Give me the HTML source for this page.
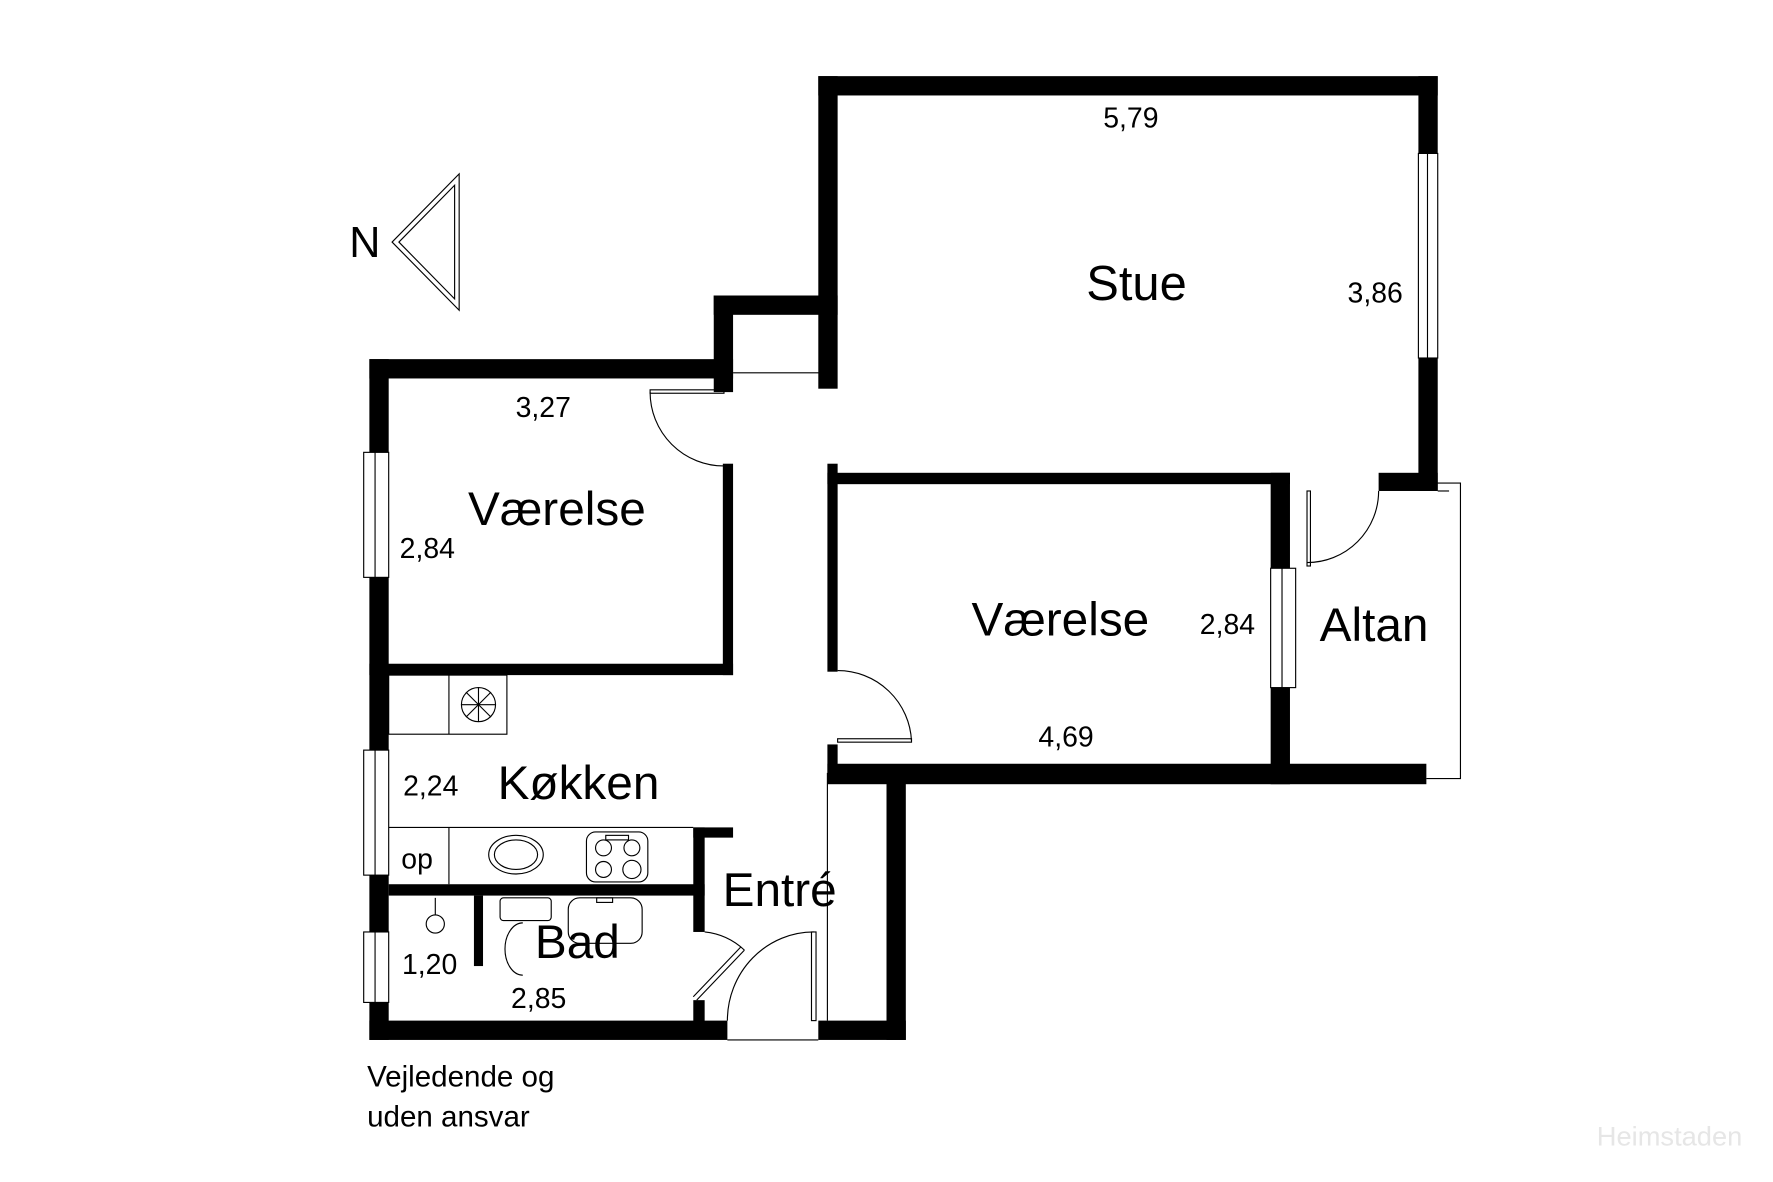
<!DOCTYPE html>
<html><head><style>html,body{margin:0;padding:0;background:#fff}svg{display:block}text{font-family:"Liberation Sans",Arial,sans-serif;fill:#000}</style></head><body>
<svg width="1773" height="1182" viewBox="0 0 1560 1040" xmlns="http://www.w3.org/2000/svg">
<rect width="1560" height="1040" fill="#fff"/>
<g fill="#000">
<rect x="720" y="67" width="545" height="17"/>
<rect x="1248" y="67" width="17" height="68"/>
<rect x="1248" y="315" width="17" height="117"/>
<rect x="720" y="67" width="17" height="275"/>
<rect x="1213" y="416" width="52" height="16"/>
<rect x="628" y="260" width="109" height="17"/>
<rect x="628" y="260" width="17" height="85"/>
<rect x="325" y="316" width="320" height="17"/>
<rect x="325" y="316" width="17" height="82"/>
<rect x="325" y="508" width="17" height="152"/>
<rect x="325" y="770" width="17" height="50"/>
<rect x="325" y="882" width="17" height="33"/>
<rect x="636" y="408" width="9" height="186"/>
<rect x="325" y="584" width="320" height="10"/>
<rect x="728" y="408" width="9" height="183"/>
<rect x="728" y="655" width="9" height="25"/>
<rect x="728" y="416" width="407" height="10"/>
<rect x="1118" y="416" width="17" height="84"/>
<rect x="1118" y="605" width="17" height="85"/>
<rect x="728" y="672" width="527" height="18"/>
<rect x="780" y="680" width="17" height="235"/>
<rect x="325" y="898" width="315" height="17"/>
<rect x="720" y="898" width="77" height="17"/>
<rect x="610" y="728" width="35" height="9"/>
<rect x="610" y="728" width="10" height="92"/>
<rect x="610" y="880" width="10" height="20"/>
<rect x="342" y="778" width="278" height="10"/>
<rect x="417" y="788" width="8" height="62"/>
</g>
<g fill="none" stroke="#000" stroke-width="1">
<rect x="1248" y="135" width="17" height="180"/><line x1="1256" y1="135" x2="1256" y2="315"/>
<rect x="320" y="398" width="22" height="110"/><line x1="330" y1="398" x2="330" y2="508"/>
<rect x="320" y="660" width="22" height="110"/><line x1="330" y1="660" x2="330" y2="770"/>
<rect x="320" y="820" width="22" height="62"/><line x1="330" y1="820" x2="330" y2="882"/>
<rect x="1118" y="500" width="22" height="105"/><line x1="1128" y1="500" x2="1128" y2="605"/>
<polyline points="1255,425 1285,425 1285,685 1255,685"/>
<line x1="1265" y1="432" x2="1275" y2="432"/>
<rect x="1150" y="432" width="3" height="66"/>
<path d="M1213,432 A63,63 0 0 1 1150,495"/>
<line x1="645" y1="328" x2="728" y2="328"/>
<rect x="572" y="343" width="65" height="3"/>
<path d="M572,345 A65,65 0 0 0 637,410"/>
<rect x="737" y="650" width="65" height="3"/>
<path d="M737,590 A65,65 0 0 1 802,652"/>
<rect x="342" y="594" width="104" height="52"/><line x1="395" y1="594" x2="395" y2="646"/>
<circle cx="421" cy="620" r="15"/>
<line x1="406" y1="620" x2="436" y2="620"/><line x1="421" y1="605" x2="421" y2="635"/><line x1="410" y1="609" x2="432" y2="631"/><line x1="432" y1="609" x2="410" y2="631"/>
<polyline points="342,728 610,728"/>
<line x1="395" y1="728" x2="395" y2="778"/>
<ellipse cx="454" cy="752" rx="24" ry="17"/><ellipse cx="454" cy="752" rx="19" ry="13"/>
<rect x="516" y="732" width="54" height="44" rx="8"/>
<circle cx="531" cy="746" r="7"/><circle cx="556" cy="746" r="7"/><circle cx="531" cy="765" r="7"/><circle cx="556" cy="765" r="8"/>
<rect x="533" y="735" width="20" height="4"/>
<line x1="383" y1="790" x2="383" y2="805"/><circle cx="383" cy="813" r="8"/>
<rect x="440" y="790" width="45" height="20" rx="3"/>
<path d="M460,812 A15,22 0 0 0 460,858"/>
<rect x="500" y="790" width="65" height="40" rx="10"/>
<rect x="525" y="790" width="14" height="4"/>
<path d="M620,820 A60,60 0 0 1 655,836"/>
<line x1="655" y1="836" x2="613" y2="880"/><line x1="652" y1="833" x2="610" y2="877"/>
<rect x="714" y="820" width="4" height="78"/>
<path d="M716,820 A76,78 0 0 0 640,898"/>
<line x1="640" y1="915" x2="720" y2="915"/>
<line x1="728" y1="680" x2="728" y2="898"/>
<line x1="737" y1="680" x2="780" y2="680"/>
<polygon points="345,213 404,153 404,273"/>
<polygon points="351,213 400,163 400,263"/>
</g>
<g>
<text x="995" y="112" font-size="25" text-anchor="middle">5,79</text>
<text x="1000" y="264" font-size="43" text-anchor="middle">Stue</text>
<text x="1210" y="266" font-size="25" text-anchor="middle">3,86</text>
<text x="478" y="367" font-size="25" text-anchor="middle">3,27</text>
<text x="490" y="462" font-size="42" text-anchor="middle">Værelse</text>
<text x="376" y="491" font-size="25" text-anchor="middle">2,84</text>
<text x="933" y="559" font-size="42" text-anchor="middle">Værelse</text>
<text x="1080" y="558" font-size="25" text-anchor="middle">2,84</text>
<text x="1209" y="564" font-size="42" text-anchor="middle">Altan</text>
<text x="938" y="657" font-size="25" text-anchor="middle">4,69</text>
<text x="379" y="700" font-size="25" text-anchor="middle">2,24</text>
<text x="509" y="703" font-size="42" text-anchor="middle">Køkken</text>
<text x="367" y="764" font-size="25" text-anchor="middle">op</text>
<text x="686" y="797" font-size="42" text-anchor="middle">Entré</text>
<text x="508" y="843" font-size="42" text-anchor="middle">Bad</text>
<text x="378" y="857" font-size="25" text-anchor="middle">1,20</text>
<text x="474" y="887" font-size="25" text-anchor="middle">2,85</text>
<text x="323" y="956" font-size="26">Vejledende og</text>
<text x="323" y="991" font-size="26">uden ansvar</text>
<text x="321" y="226" font-size="38" text-anchor="middle">N</text>
<text x="1533" y="1008" font-size="24" text-anchor="end" style="fill:#e6e6e6">Heimstaden</text>
</g>
</svg>
</body></html>
